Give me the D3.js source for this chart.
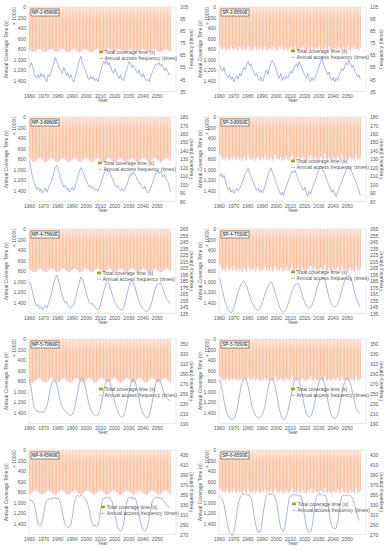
<!DOCTYPE html>
<html>
<head>
<meta charset="utf-8">
<script src="https://cdn.jsdelivr.net/npm/d3@7"></script>
<style>
  body { margin: 0; background: #fff; }
  text { font-family: "Liberation Sans", Arial, sans-serif; fill: #595959; }
</style>
</head>
<body>
<div id="chart"></div>
<script>
// categories
const years = d3.range(1960, 2060);
const yearTicks = [1960, 1970, 1980, 1990, 2000, 2010, 2020, 2030, 2040, 2050];
const timeTicks = [0, 200, 400, 600, 800, 1000, 1200, 1400];
const panelNames = ["NP-2-85N0E", "SP-2-85S0E", "NP-3-80N0E", "SP-3-80S0E", "NP-4-75N0E",
    "SP-4-75S0E", "NP-5-70N0E", "SP-5-70S0E", "NP-6-65N0E", "SP-6-65S0E"];

// right axis ticks (frequency, times) per row
const freqTicks2 = [35, 45, 55, 65, 75, 85, 95, 105];
const freqTicks3 = [80, 90, 100, 110, 120, 130, 140, 150, 160, 170, 180];
const freqTicks4 = [135, 145, 155, 165, 175, 185, 195, 205, 215, 225, 235, 245, 255, 265];
const freqTicks5 = [190, 210, 230, 250, 270, 290, 310, 330, 350];
const freqTicks6 = [270, 290, 310, 330, 350, 370, 390, 410, 430];
const freqMax = [105, 180, 265, 360, 440];

// total coverage time (s, x10000), one value per year
const timeNP2 = [812, 835, 852, 858, 848, 826, 806, 798, 810, 832,
    850, 857, 846, 824, 805, 797, 809, 831, 851, 858,
    847, 825, 804, 796, 808, 830, 849, 856, 848, 827,
    806, 797, 807, 829, 850, 858, 849, 828, 807, 798,
    806, 828, 848, 857, 850, 830, 809, 799, 805, 826,
    847, 858, 852, 832, 810, 799, 804, 825, 846, 857,
    853, 834, 812, 800, 803, 823, 845, 856, 854, 836,
    814, 801, 802, 821, 843, 856, 855, 838, 816, 802,
    801, 819, 842, 855, 856, 840, 818, 803, 800, 817,
    840, 854, 857, 842, 820, 804, 799, 815, 838, 853];
const timeSP2 = [742, 790, 815, 760, 805, 830, 778, 812, 745, 798,
    822, 770, 808, 835, 752, 795, 818, 764, 826, 790,
    748, 812, 800, 835, 772, 755, 820, 790, 808, 760,
    828, 795, 742, 810, 832, 775, 802, 820, 752, 790,
    815, 838, 768, 800, 746, 825, 810, 778, 832, 795,
    760, 805, 822, 745, 790, 818, 835, 770, 808, 752,
    796, 826, 780, 812, 840, 758, 800, 822, 772, 810,
    748, 830, 792, 815, 765, 805, 828, 744, 798, 820,
    836, 778, 806, 755, 824, 790, 812, 768, 832, 800,
    750, 815, 828, 782, 805, 745, 820, 795, 835, 770];
const timeNP3 = [790, 818, 845, 858, 850, 822, 792, 775, 786, 814,
    842, 857, 852, 826, 796, 777, 783, 810, 839, 856,
    853, 829, 799, 778, 781, 806, 836, 855, 855, 832,
    802, 780, 779, 803, 833, 854, 856, 835, 805, 782,
    778, 800, 830, 852, 857, 838, 808, 784, 777, 797,
    827, 851, 858, 841, 811, 786, 776, 794, 824, 849,
    858, 844, 814, 788, 776, 791, 821, 847, 858, 846,
    817, 790, 775, 789, 818, 845, 858, 848, 820, 792,
    776, 786, 815, 843, 857, 850, 823, 794, 776, 784,
    812, 841, 857, 852, 826, 796, 777, 782, 809, 838];
const timeSP3 = [700, 760, 812, 785, 830, 748, 795, 820, 770, 806,
    735, 798, 826, 762, 810, 790, 838, 752, 804, 822,
    690, 780, 815, 800, 768, 832, 795, 745, 812, 826,
    775, 808, 736, 822, 790, 815, 760, 835, 798, 710,
    785, 820, 805, 758, 830, 792, 814, 742, 808, 826,
    770, 698, 812, 795, 836, 765, 804, 822, 750, 790,
    818, 832, 776, 806, 720, 795, 828, 760, 812, 800,
    835, 756, 790, 815, 702, 800, 825, 772, 810, 838,
    766, 805, 820, 745, 798, 830, 715, 792, 812, 780,
    826, 800, 755, 818, 790, 834, 708, 795, 820, 770];
const timeNP4 = [760, 785, 808, 821, 815, 792, 766, 750, 758, 782,
    806, 820, 817, 795, 769, 751, 756, 779, 804, 819,
    818, 798, 772, 752, 754, 776, 801, 818, 819, 801,
    775, 754, 752, 773, 798, 817, 820, 804, 778, 756,
    751, 770, 795, 815, 821, 806, 781, 758, 750, 767,
    792, 813, 821, 809, 784, 760, 750, 764, 789, 811,
    821, 811, 787, 762, 750, 762, 786, 809, 821, 813,
    790, 765, 751, 759, 783, 807, 820, 815, 793, 767,
    751, 757, 780, 805, 820, 817, 796, 770, 752, 755,
    777, 802, 819, 818, 798, 773, 753, 753, 774, 799];
const timeSP4 = [665, 730, 790, 760, 805, 720, 775, 800, 745, 790,
    712, 770, 810, 745, 795, 768, 815, 730, 780, 805,
    700, 760, 795, 778, 742, 812, 770, 722, 790, 808,
    755, 788, 715, 800, 770, 795, 738, 818, 775, 690,
    765, 800, 785, 735, 810, 772, 795, 720, 788, 806,
    748, 676, 792, 775, 815, 742, 784, 802, 728, 770,
    798, 812, 752, 786, 700, 775, 808, 738, 792, 780,
    815, 735, 770, 795, 682, 780, 805, 750, 790, 818,
    745, 785, 800, 722, 778, 810, 695, 772, 792, 760,
    806, 780, 735, 798, 770, 814, 688, 775, 800, 750];
const timeNP5 = [800, 822, 830, 818, 792, 762, 744, 748, 772, 801,
    823, 829, 815, 788, 759, 743, 750, 776, 805, 825,
    828, 812, 784, 756, 742, 752, 780, 808, 826, 827,
    809, 780, 753, 741, 755, 784, 812, 828, 825, 805,
    776, 750, 741, 757, 788, 815, 829, 823, 802, 772,
    748, 741, 760, 792, 818, 830, 821, 798, 768, 746,
    742, 763, 795, 821, 830, 819, 794, 764, 744, 743,
    766, 799, 823, 829, 816, 790, 760, 743, 745, 769,
    802, 825, 829, 813, 786, 757, 742, 747, 773, 806,
    826, 828, 811, 782, 754, 741, 749, 777, 809, 827];
const timeSP5 = [705, 748, 780, 765, 795, 740, 772, 790, 755, 785,
    730, 768, 798, 752, 782, 770, 800, 742, 775, 792,
    715, 760, 788, 776, 748, 796, 770, 735, 784, 798,
    758, 780, 728, 792, 770, 788, 745, 800, 772, 710,
    765, 790, 782, 744, 797, 770, 786, 732, 780, 794,
    752, 702, 784, 772, 800, 746, 778, 792, 738, 768,
    789, 798, 756, 780, 712, 772, 796, 742, 785, 776,
    800, 740, 768, 788, 706, 776, 794, 752, 782, 799,
    748, 778, 790, 730, 774, 796, 708, 770, 786, 760,
    794, 776, 740, 790, 768, 800, 704, 772, 790, 755];
const timeNP6 = [842, 828, 804, 780, 767, 772, 795, 821, 840, 846,
    832, 808, 783, 768, 770, 791, 817, 838, 847, 836,
    812, 786, 769, 768, 788, 813, 836, 848, 839, 816,
    790, 771, 767, 784, 809, 833, 847, 841, 820, 794,
    773, 766, 781, 805, 830, 846, 843, 824, 798, 775,
    766, 778, 801, 827, 845, 845, 828, 802, 778, 766,
    775, 797, 823, 843, 847, 831, 806, 781, 767, 773,
    793, 819, 841, 848, 835, 810, 785, 768, 771, 790,
    815, 838, 848, 838, 814, 788, 770, 769, 787, 811,
    835, 847, 841, 818, 792, 772, 767, 784, 808, 832];
const timeSP6 = [725, 770, 805, 790, 822, 760, 795, 815, 778, 808,
    748, 788, 826, 772, 806, 792, 830, 762, 800, 818,
    732, 782, 812, 800, 770, 826, 795, 755, 808, 824,
    780, 804, 750, 818, 792, 812, 766, 830, 796, 730,
    788, 814, 805, 765, 824, 792, 810, 752, 804, 820,
    774, 722, 808, 795, 828, 768, 800, 816, 758, 790,
    812, 826, 778, 802, 735, 795, 822, 765, 808, 798,
    828, 762, 790, 812, 726, 798, 820, 775, 805, 830,
    770, 800, 815, 752, 796, 824, 730, 792, 810, 782,
    820, 798, 760, 815, 790, 828, 728, 795, 815, 776];

// annual access frequency (times), one value per year
const freqNP2 = [55, 59, 56, 51, 47, 46, 49, 46, 50, 47,
    49, 45, 43, 49, 47, 51, 55, 58, 63, 60,
    57, 54, 52, 50, 55, 52, 48, 50, 46, 49,
    45, 43, 47, 52, 57, 61, 64, 59, 56, 53,
    50, 46, 45, 48, 45, 47, 44, 46, 43, 47,
    52, 56, 60, 58, 61, 57, 59, 55, 52, 50,
    54, 51, 48, 46, 49, 45, 44, 48, 52, 56,
    60, 58, 55, 57, 54, 52, 50, 53, 49, 47,
    50, 46, 44, 45, 43, 47, 50, 53, 56, 58,
    57, 59, 56, 58, 55, 52, 55, 52, 49, 50];
const freqSP2 = [57, 54, 52, 55, 50, 48, 46, 49, 45, 47,
    43, 46, 48, 45, 50, 48, 52, 55, 53, 57,
    60, 56, 58, 54, 51, 48, 50, 46, 44, 47,
    43, 46, 50, 53, 49, 55, 58, 61, 59, 56,
    52, 48, 46, 50, 44, 47, 45, 48, 46, 49,
    52, 50, 54, 56, 58, 55, 60, 57, 54, 51,
    48, 46, 50, 45, 43, 47, 44, 46, 49, 52,
    56, 59, 64, 58, 55, 52, 49, 51, 46, 44,
    47, 43, 46, 44, 48, 51, 54, 52, 56, 59,
    57, 61, 58, 55, 57, 52, 50, 47, 49, 45];
const freqNP3 = [128, 118, 108, 104, 98, 94, 97, 92, 95, 90,
    93, 96, 91, 95, 99, 103, 108, 114, 120, 123,
    118, 112, 106, 101, 97, 99, 94, 96, 91, 94,
    97, 93, 98, 104, 110, 116, 120, 117, 113, 108,
    104, 100, 97, 99, 95, 97, 93, 95, 92, 96,
    101, 106, 112, 116, 118, 115, 117, 112, 108, 104,
    100, 97, 99, 95, 93, 96, 92, 94, 98, 103,
    108, 113, 111, 115, 112, 109, 105, 103, 100, 97,
    95, 98, 93, 90, 92, 96, 100, 105, 110, 114,
    117, 113, 116, 112, 109, 112, 107, 104, 100, 92];
const freqSP3 = [110, 113, 108, 111, 104, 98, 94, 97, 91, 94,
    90, 93, 96, 92, 95, 99, 103, 108, 113, 116,
    119, 114, 110, 106, 101, 97, 93, 96, 91, 94,
    90, 94, 99, 105, 111, 116, 120, 115, 111, 106,
    100, 96, 92, 88, 91, 87, 94, 98, 103, 108,
    112, 116, 114, 117, 112, 108, 104, 100, 96, 93,
    97, 90, 86, 92, 89, 95, 99, 104, 109, 114,
    118, 122, 119, 116, 112, 107, 103, 99, 95, 91,
    94, 89, 86, 90, 95, 99, 104, 109, 113, 118,
    121, 122, 118, 115, 111, 107, 103, 98, 93, 87];
const freqNP4 = [184, 178, 168, 158, 150, 146, 149, 143, 146, 141,
    144, 147, 143, 149, 155, 163, 172, 182, 190, 194,
    188, 180, 170, 162, 156, 151, 153, 148, 145, 143,
    146, 149, 156, 165, 174, 183, 191, 188, 182, 174,
    166, 158, 152, 149, 151, 147, 145, 142, 140, 143,
    150, 159, 168, 176, 182, 184, 180, 172, 165, 158,
    152, 148, 145, 142, 141, 140, 143, 150, 160, 170,
    178, 184, 186, 182, 176, 168, 160, 153, 148, 145,
    142, 140, 138, 139, 141, 146, 153, 162, 171, 177,
    181, 180, 182, 178, 172, 165, 160, 156, 152, 150];
const freqSP4 = [189, 180, 170, 160, 152, 146, 141, 138, 136, 139,
    144, 152, 160, 168, 175, 180, 183, 185, 182, 177,
    170, 163, 156, 150, 146, 143, 141, 140, 142, 146,
    152, 159, 166, 172, 177, 181, 184, 181, 175, 167,
    159, 152, 146, 141, 139, 137, 139, 143, 149, 156,
    163, 170, 175, 179, 180, 182, 179, 172, 164, 157,
    151, 147, 144, 143, 145, 148, 154, 161, 169, 177,
    184, 188, 190, 191, 186, 178, 169, 160, 153, 148,
    146, 145, 146, 149, 155, 163, 171, 179, 186, 190,
    193, 194, 191, 185, 177, 168, 160, 153, 148, 145];
const freqNP5 = [278, 262, 240, 225, 218, 214, 216, 212, 215, 211,
    214, 218, 224, 236, 252, 266, 275, 279, 276, 268,
    256, 242, 230, 222, 218, 215, 212, 210, 207, 205,
    208, 214, 226, 242, 258, 272, 280, 281, 276, 266,
    252, 238, 226, 218, 213, 209, 206, 205, 208, 214,
    224, 238, 254, 268, 276, 279, 276, 268, 256, 243,
    231, 221, 214, 208, 204, 202, 205, 212, 224, 240,
    256, 269, 277, 279, 275, 266, 253, 239, 226, 216,
    209, 205, 202, 201, 206, 215, 229, 245, 261, 273,
    278, 279, 274, 266, 256, 247, 244, 240, 237, 236];
const freqSP5 = [278, 268, 252, 236, 222, 212, 205, 201, 199, 198,
    200, 205, 215, 230, 248, 264, 275, 280, 281, 276,
    265, 250, 235, 222, 213, 207, 203, 201, 202, 204,
    208, 216, 228, 244, 260, 273, 280, 281, 276, 265,
    250, 233, 219, 208, 201, 198, 200, 206, 215, 228,
    243, 258, 270, 278, 281, 280, 274, 263, 248, 233,
    220, 210, 205, 203, 205, 210, 220, 234, 250, 264,
    274, 280, 281, 277, 268, 254, 238, 223, 212, 205,
    201, 200, 202, 208, 218, 232, 248, 263, 274, 280,
    281, 278, 270, 258, 245, 232, 222, 215, 212, 211];
const freqNP6 = [338, 340, 336, 332, 320, 302, 290, 287, 289, 298,
    315, 330, 338, 341, 343, 340, 344, 342, 345, 341,
    343, 338, 330, 315, 300, 290, 286, 284, 285, 290,
    305, 325, 340, 347, 349, 346, 350, 348, 345, 342,
    338, 330, 318, 303, 292, 287, 289, 285, 288, 300,
    320, 338, 344, 342, 346, 343, 345, 341, 336, 325,
    310, 295, 284, 279, 277, 280, 290, 310, 330, 342,
    345, 343, 346, 341, 344, 338, 325, 310, 296, 285,
    279, 277, 280, 288, 300, 318, 334, 342, 344, 346,
    343, 345, 341, 344, 338, 335, 330, 328, 325, 322];
const freqSP6 = [346, 344, 340, 330, 315, 298, 284, 274, 269, 268,
    275, 292, 312, 330, 342, 348, 351, 352, 350, 351,
    349, 350, 345, 332, 312, 294, 281, 275, 274, 280,
    298, 320, 338, 348, 351, 352, 350, 352, 349, 345,
    335, 318, 298, 284, 278, 277, 285, 305, 328, 344,
    348, 350, 349, 351, 348, 350, 347, 349, 340, 322,
    302, 286, 277, 274, 275, 285, 305, 330, 346, 350,
    352, 349, 351, 348, 350, 345, 334, 315, 297, 285,
    282, 281, 283, 295, 315, 335, 346, 349, 350, 348,
    350, 347, 349, 345, 340, 330, 318, 308, 300, 298];

const timeSeries = [timeNP2, timeSP2, timeNP3, timeSP3, timeNP4, timeSP4, timeNP5, timeSP5, timeNP6, timeSP6];
const freqSeries = [freqNP2, freqSP2, freqNP3, freqSP3, freqNP4, freqSP4, freqNP5, freqSP5, freqNP6, freqSP6];
const freqTickSets = [freqTicks2, freqTicks3, freqTicks4, freqTicks5, freqTicks6];

// layout
const W = 389, H = 550;
const plotW = 147, plotH = 84.5;
const colX = [29, 219];
const rowY = [7, 117, 229, 339, 450];
// legend offsets inside each plot [x, y]
const legendPos = [[70, 45], [72, 44], [69, 46], [72, 44], [68, 44],
    [72, 43], [70, 50], [72, 50], [72, 57], [73, 54]];
const fontSize = 5;

const svg = d3.select("#chart")
    .append("svg")
    .attr("width", W)
    .attr("height", H);

// bar gradient
const defs = svg.append("defs");
const grad = defs.append("linearGradient")
    .attr("id", "barGrad")
    .attr("x1", 0).attr("y1", 0).attr("x2", 0).attr("y2", 1);
grad.append("stop").attr("offset", "0%").attr("stop-color", "#fadccb");
grad.append("stop").attr("offset", "30%").attr("stop-color", "#f7c4a2");
grad.append("stop").attr("offset", "88%").attr("stop-color", "#f6c19c");
grad.append("stop").attr("offset", "100%").attr("stop-color", "#f4c4c4");

const legGrad = defs.append("linearGradient")
    .attr("id", "legGrad")
    .attr("x1", 0).attr("y1", 0).attr("x2", 0).attr("y2", 1);
legGrad.append("stop").attr("offset", "0%").attr("stop-color", "#c9b63a");
legGrad.append("stop").attr("offset", "100%").attr("stop-color", "#8a8a2a");

const x = d3.scaleLinear()
    .domain([1960, 2063.5])
    .range([0, plotW]);
const step = x(1961) - x(1960);

const yTime = d3.scaleLinear()
    .domain([0, 1600])
    .range([0, plotH]);

function styleTicks(axisG) {
    axisG.select(".domain").remove();
    axisG.selectAll("text")
        .attr("font-size", fontSize)
        .attr("fill", "#595959")
        .attr("font-family", null);
}

function drawPanel(i) {
    const row = Math.floor(i / 2), col = i % 2;
    const g = svg.append("g")
        .attr("transform", `translate(${colX[col]},${rowY[row]})`);

    const yFreq = d3.scaleLinear()
        .domain([freqTickSets[row][0], freqMax[row]])
        .range([plotH, 0]);

    // plot border
    g.append("rect")
        .attr("width", plotW)
        .attr("height", plotH)
        .attr("fill", "#fff")
        .attr("stroke", "#d9d9d9")
        .attr("stroke-width", 0.6);

    // bars hang from the top
    g.selectAll("rect.bar")
        .data(timeSeries[i])
        .enter()
        .append("rect")
        .attr("class", "bar")
        .attr("x", (d, k) => x(years[k]) + 0.1)
        .attr("y", 0)
        .attr("width", step * 0.84)
        .attr("height", d => yTime(d))
        .attr("fill", "url(#barGrad)");

    // frequency line
    const line = d3.line()
        .x((d, k) => x(years[k]) + step / 2)
        .y(d => yFreq(d));
    g.append("path")
        .datum(freqSeries[i])
        .attr("d", line)
        .attr("fill", "none")
        .attr("stroke", "#8c9dd9")
        .attr("stroke-width", 0.75);

    // left axis
    styleTicks(g.append("g")
        .call(d3.axisLeft(yTime).tickValues(timeTicks).tickFormat(d3.format(",")).tickSize(0).tickPadding(3)));

    // right axis
    styleTicks(g.append("g")
        .attr("transform", `translate(${plotW},0)`)
        .call(d3.axisRight(yFreq).tickValues(freqTickSets[row]).tickSize(0).tickPadding(4)));

    // bottom axis
    styleTicks(g.append("g")
        .attr("transform", `translate(0,${plotH})`)
        .call(d3.axisBottom(x).tickValues(yearTicks).tickFormat(d3.format("d")).tickSize(0).tickPadding(2.5)));

    g.append("text")
        .attr("x", plotW / 2)
        .attr("y", plotH + 10.8)
        .attr("text-anchor", "middle")
        .attr("font-size", fontSize)
        .text("Year");

    // axis titles
    g.append("text")
        .attr("transform", `translate(${col === 0 ? -21 : -17},${plotH / 2}) rotate(-90)`)
        .attr("text-anchor", "middle")
        .attr("font-size", fontSize)
        .text("Annual Coverage Time (s)");
    g.append("text")
        .attr("transform", `translate(${col === 0 ? -13 : -10},9) rotate(-90)`)
        .attr("text-anchor", "middle")
        .attr("font-size", fontSize)
        .text("× 10000");
    g.append("text")
        .attr("transform", `translate(${plotW + 16.5},${plotH / 2}) rotate(-90)`)
        .attr("text-anchor", "middle")
        .attr("font-size", fontSize)
        .text("Frequency (times)");

    // panel name box
    const name = g.append("g").attr("transform", "translate(2,2)");
    name.append("rect")
        .attr("width", 28)
        .attr("height", 7)
        .attr("fill", "#fff")
        .attr("stroke", "#5b3a3a")
        .attr("stroke-width", 0.6);
    name.append("text")
        .attr("x", 14)
        .attr("y", 5.1)
        .attr("text-anchor", "middle")
        .attr("font-size", 4.6)
        .attr("font-weight", "bold")
        .attr("fill", "#333")
        .text(panelNames[i]);

    // legend
    const [lx, ly] = legendPos[i];
    const leg = g.append("g").attr("transform", `translate(${lx},${ly})`);
    leg.append("rect")
        .attr("x", 0).attr("y", -1.6)
        .attr("width", 4).attr("height", 2.8)
        .attr("fill", "url(#legGrad)");
    leg.append("text")
        .attr("x", 5.5).attr("y", 1.7)
        .attr("font-size", fontSize)
        .text("Total coverage time (s)");
    leg.append("line")
        .attr("x1", 0).attr("x2", 4)
        .attr("y1", 6.3).attr("y2", 6.3)
        .attr("stroke", "#b89ad8")
        .attr("stroke-width", 0.8);
    leg.append("text")
        .attr("x", 5.5).attr("y", 8)
        .attr("font-size", fontSize)
        .text("Annual access frequency (times)");
}

for (let i = 0; i < panelNames.length; i++) drawPanel(i);
</script>
</body>
</html>
